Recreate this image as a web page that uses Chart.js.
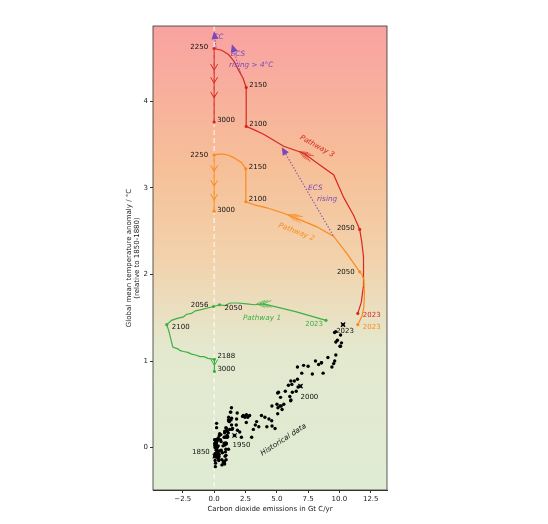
<!DOCTYPE html>
<html>
<head>
<meta charset="utf-8">
<script src="https://cdn.jsdelivr.net/npm/chart.js@4.4.0/dist/chart.umd.min.js"></script>
<style>
  html, body { margin: 0; padding: 0; background: #fff; }
  canvas { display: block; }
</style>
</head>
<body>
<canvas id="myChart" width="548" height="524"></canvas>
<script>
// historical data, one value per year from 1850 to 2023
const histFirstYear = 1850;
const histEmissions = [
    0.054, 0.054, 0.057, 0.059, 0.069, 0.071, 0.076, 0.077, 0.078, 0.083,
    0.091, 0.095, 0.097, 0.104, 0.112, 0.119, 0.122, 0.130, 0.135, 0.142,
    0.147, 0.156, 0.173, 0.184, 0.174, 0.188, 0.191, 0.194, 0.196, 0.210,
    0.236, 0.243, 0.256, 0.272, 0.275, 0.277, 0.281, 0.295, 0.327, 0.327,
    0.356, 0.372, 0.374, 0.370, 0.383, 0.406, 0.419, 0.440, 0.465, 0.507,
    0.534, 0.552, 0.566, 0.617, 0.624, 0.663, 0.707, 0.784, 0.750, 0.785,
    0.819, 0.836, 0.879, 0.943, 0.850, 0.838, 0.901, 0.955, 0.936, 0.806,
    0.932, 0.803, 0.845, 0.970, 0.963, 0.975, 0.983, 1.062, 1.065, 1.145,
    1.053, 0.940, 0.847, 0.893, 0.973, 1.027, 1.130, 1.209, 1.142, 1.192,
    1.299, 1.334, 1.342, 1.391, 1.383, 1.160, 1.238, 1.392, 1.469, 1.419,
    1.630, 1.768, 1.796, 1.841, 1.865, 2.043, 2.177, 2.270, 2.330, 2.454,
    2.569, 2.580, 2.686, 2.833, 2.995, 3.130, 3.288, 3.393, 3.564, 3.780,
    4.053, 4.208, 4.376, 4.614, 4.623, 4.596, 4.864, 5.016, 5.074, 5.357,
    5.301, 5.138, 5.094, 5.075, 5.258, 5.424, 5.563, 5.683, 5.930, 6.042,
    6.124, 6.206, 6.110, 6.132, 6.243, 6.402, 6.553, 6.653, 6.651, 6.700,
    6.893, 6.997, 7.140, 7.503, 7.838, 8.091, 8.343, 8.571, 8.700, 8.568,
    9.082, 9.404, 9.541, 9.625, 9.715, 9.717, 9.710, 9.842, 10.050, 10.093,
    9.615, 10.088, 10.168, 10.292
];
const histTemps = [
    -0.10, 0.09, 0.09, 0.05, 0.03, 0.02, 0.00, -0.15, -0.07, 0.04,
    -0.07, -0.11, -0.22, 0.02, -0.18, 0.03, 0.06, 0.03, 0.05, 0.03,
    0.04, -0.01, 0.09, 0.06, -0.03, -0.03, 0.00, 0.23, 0.28, 0.09,
    0.00, 0.09, 0.08, 0.01, -0.09, -0.09, -0.06, -0.12, 0.02, 0.11,
    -0.10, -0.04, -0.14, -0.15, -0.11, -0.08, 0.14, 0.16, -0.04, 0.09,
    0.15, 0.07, -0.03, -0.14, -0.20, -0.06, 0.02, -0.16, -0.17, -0.18,
    -0.16, -0.19, -0.10, -0.09, 0.12, 0.17, -0.05, -0.14, -0.02, 0.05,
    0.05, 0.12, 0.03, 0.05, 0.04, 0.12, 0.22, 0.12, 0.13, -0.02,
    0.19, 0.23, 0.19, 0.05, 0.19, 0.14, 0.17, 0.30, 0.32, 0.30,
    0.41, 0.41, 0.32, 0.34, 0.46, 0.35, 0.21, 0.26, 0.22, 0.21,
    0.14, 0.26, 0.33, 0.40, 0.20, 0.18, 0.12, 0.36, 0.37, 0.35,
    0.29, 0.38, 0.35, 0.37, 0.12, 0.21, 0.26, 0.30, 0.24, 0.37,
    0.35, 0.24, 0.33, 0.48, 0.25, 0.31, 0.22, 0.50, 0.39, 0.48,
    0.58, 0.64, 0.46, 0.63, 0.48, 0.44, 0.50, 0.65, 0.72, 0.59,
    0.77, 0.73, 0.54, 0.55, 0.64, 0.77, 0.65, 0.79, 0.93, 0.70,
    0.71, 0.86, 0.95, 0.94, 0.85, 1.00, 0.96, 0.98, 0.86, 0.98,
    1.04, 0.93, 0.97, 1.00, 1.07, 1.22, 1.34, 1.24, 1.17, 1.30,
    1.33, 1.17, 1.21, 1.42
];
const histMarkYears = [1850, 1950, 2000, 2023];

// pathway 1 (green)
const p1X = [8.93, 6.5, 3.95, 3.2, 2.6, 1.9, 1.28, 0.85, 0.43, -0.05, -0.6, -1.12, -1.5, -1.8, -2.2, -2.45, -3.0, -3.4, -3.78,
             -3.6, -3.5, -3.3, -2.9, -2.7, -2.45, -2.1, -1.8, -1.5, -1.12, -0.8, -0.5, 0.02, 0.02];
const p1Y = [1.47, 1.57, 1.66, 1.65, 1.66, 1.67, 1.67, 1.64, 1.65, 1.63, 1.61, 1.59, 1.58, 1.55, 1.54, 1.51, 1.49, 1.47, 1.42,
             1.34, 1.28, 1.16, 1.14, 1.12, 1.11, 1.10, 1.08, 1.07, 1.05, 1.05, 1.03, 1.02, 0.88];
const p1MarkYears = ['2023', '2050', '2056', '2100', '2188', '3000'];
const p1MarkX = [8.93, 0.43, -0.05, -3.78, 0.02, 0.02];
const p1MarkY = [1.47, 1.65, 1.63, 1.42, 1.02, 0.88];

// pathway 2 (orange)
const p2X = [11.47, 11.8, 11.95, 12.0, 11.95, 11.8, 11.62, 10.6, 9.55, 8.2, 6.88, 5.5, 4.2, 3.3, 2.53,
             2.53, 2.53, 2.2, 1.55, 1.1, 0.75, 0.35, 0, 0, 0];
const p2Y = [1.42, 1.52, 1.62, 1.78, 1.94, 2.0, 2.03, 2.24, 2.44, 2.55, 2.63, 2.71, 2.77, 2.80, 2.84,
             3.05, 3.22, 3.29, 3.35, 3.38, 3.39, 3.39, 3.38, 3.05, 2.73];
const p2MarkYears = ['2023', '2050', '2100', '2150', '2250', '3000'];
const p2MarkX = [11.47, 11.62, 2.53, 2.53, 0, 0];
const p2MarkY = [1.42, 2.03, 2.84, 3.22, 3.38, 2.73];

// pathway 3 (red)
const p3X = [11.47, 11.75, 11.9, 11.95, 11.9, 11.78, 11.62, 11.14, 10.34, 9.55, 8.3, 7.15, 5.55, 3.95, 3.2, 2.56,
             2.56, 2.56, 2.3, 1.95, 1.6, 1.15, 0.6, 0, 0, 0];
const p3Y = [1.55, 1.68, 1.85, 2.0, 2.2, 2.38, 2.52, 2.68, 2.89, 3.15, 3.28, 3.40, 3.48, 3.62, 3.67, 3.71,
             3.95, 4.16, 4.27, 4.36, 4.46, 4.54, 4.59, 4.61, 4.2, 3.76];
const p3MarkYears = ['2023', '2050', '2100', '2150', '2250', '3000'];
const p3MarkX = [11.47, 11.62, 2.56, 2.56, 0, 0];
const p3MarkY = [1.55, 2.52, 3.71, 4.16, 4.61, 3.76];

const xTicks = [-2.5, 0, 2.5, 5, 7.5, 10, 12.5];
const yTicks = [0, 1, 2, 3, 4];

const RED = '#d8281f';
const ORANGE = '#fb8a1c';
const GREEN = '#3cb043';
const PURPLE = '#7b47bb';
const FONT = '"DejaVu Sans", sans-serif';

function pts(xs, ys) {
    return xs.map((x, i) => ({ x: x, y: ys[i] }));
}

const histMarks = histMarkYears.map(y => ({
    x: histEmissions[y - histFirstYear],
    y: histTemps[y - histFirstYear]
}));

function lineSet(xs, ys, color) {
    return {
        data: pts(xs, ys), showLine: true, borderColor: color, borderWidth: 1.2,
        pointRadius: 0, tension: 0, fill: false
    };
}

function markSet(xs, ys, color) {
    return {
        data: pts(xs, ys), showLine: false, pointRadius: 1.6,
        backgroundColor: color, borderColor: color, borderWidth: 0
    };
}

// label offsets in pixels: [dx, dy, align]
const labelLayout = {
    p1: [[-3, 4, 'right'], [5, 3, 'left'], [-5, -1, 'right'], [5, 3, 'left'], [3, -3, 'left'], [3, -2, 'left']],
    p2: [[5, 3, 'left'], [-5, 0, 'right'], [3, -3, 'left'], [3, -2, 'left'], [-6, 0, 'right'], [3, -1, 'left']],
    p3: [[5, 2, 'left'], [-5, -1, 'right'], [3, -2, 'left'], [3, -2, 'left'], [-6, -1, 'right'], [3, -2, 'left']],
    hist: [[-5, -4, 'right'], [-2, 10, 'left'], [0, 11, 'left'], [2, 7, 'center']]
};

function drawText(ctx, text, px, py, color, align, font, rot) {
    ctx.save();
    ctx.translate(px, py);
    if (rot) ctx.rotate(rot * Math.PI / 180);
    ctx.fillStyle = color;
    ctx.font = font;
    ctx.textAlign = align;
    ctx.textBaseline = 'middle';
    ctx.fillText(text, 0, 0);
    ctx.restore();
}

function downChevron(ctx, px, py, color) {
    ctx.save();
    ctx.strokeStyle = color;
    ctx.lineWidth = 1;
    ctx.beginPath();
    ctx.moveTo(px - 3.5, py - 6);
    ctx.lineTo(px, py);
    ctx.lineTo(px + 3.5, py - 6);
    ctx.stroke();
    ctx.restore();
}

// feathered arrow: several thin chevrons, tip pointing in direction of travel
function featherArrow(ctx, px, py, ang, color) {
    ctx.save();
    ctx.strokeStyle = color;
    ctx.lineWidth = 0.7;
    for (let k = 0; k < 3; k++) {
        const tx = px - Math.cos(ang) * k * 3.2;
        const ty = py - Math.sin(ang) * k * 3.2;
        ctx.beginPath();
        ctx.moveTo(tx + Math.cos(ang + Math.PI - 0.4) * 9, ty + Math.sin(ang + Math.PI - 0.4) * 9);
        ctx.lineTo(tx, ty);
        ctx.lineTo(tx + Math.cos(ang + Math.PI + 0.4) * 9, ty + Math.sin(ang + Math.PI + 0.4) * 9);
        ctx.stroke();
    }
    ctx.restore();
}

function purpleArrow(ctx, x1, y1, x2, y2) {
    const ang = Math.atan2(y2 - y1, x2 - x1);
    ctx.save();
    ctx.strokeStyle = PURPLE;
    ctx.fillStyle = PURPLE;
    ctx.lineWidth = 1.1;
    ctx.setLineDash([1.3, 1.8]);
    ctx.beginPath();
    ctx.moveTo(x1, y1);
    ctx.lineTo(x2 - Math.cos(ang) * 6, y2 - Math.sin(ang) * 6);
    ctx.stroke();
    ctx.setLineDash([]);
    ctx.beginPath();
    ctx.moveTo(x2, y2);
    ctx.lineTo(x2 - Math.cos(ang) * 8 + Math.sin(ang) * 3.5, y2 - Math.sin(ang) * 8 - Math.cos(ang) * 3.5);
    ctx.lineTo(x2 - Math.cos(ang) * 8 - Math.sin(ang) * 3.5, y2 - Math.sin(ang) * 8 + Math.cos(ang) * 3.5);
    ctx.closePath();
    ctx.fill();
    ctx.restore();
}

const decorPlugin = {
    id: 'decor',
    beforeDatasetsDraw(chart) {
        const { ctx, chartArea: a } = chart;
        const g = ctx.createLinearGradient(0, a.top, 0, a.bottom);
        g.addColorStop(0, '#f9a2a1');
        g.addColorStop(0.3, '#f6bf98');
        g.addColorStop(0.5, '#f2d2ab');
        g.addColorStop(0.7, '#e3e9cf');
        g.addColorStop(1, '#dfebd3');
        ctx.save();
        ctx.fillStyle = g;
        ctx.fillRect(a.left, a.top, a.right - a.left, a.bottom - a.top);
        const x0 = chart.scales.x.getPixelForValue(0);
        ctx.strokeStyle = 'rgba(255,255,255,0.95)';
        ctx.lineWidth = 1;
        ctx.setLineDash([5, 3]);
        ctx.beginPath();
        ctx.moveTo(x0, a.top);
        ctx.lineTo(x0, a.bottom);
        ctx.stroke();
        ctx.restore();
    },
    afterDatasetsDraw(chart) {
        const { ctx, chartArea: a } = chart;
        const sx = chart.scales.x, sy = chart.scales.y;
        const X = v => sx.getPixelForValue(v);
        const Y = v => sy.getPixelForValue(v);
        const small = '7px ' + FONT;

        // year labels
        const groups = [
            [p1MarkYears, p1MarkX, p1MarkY, labelLayout.p1, [GREEN, '#111', '#111', '#111', '#111', '#111']],
            [p2MarkYears, p2MarkX, p2MarkY, labelLayout.p2, [ORANGE, '#111', '#111', '#111', '#111', '#111']],
            [p3MarkYears, p3MarkX, p3MarkY, labelLayout.p3, [RED, '#111', '#111', '#111', '#111', '#111']],
            [histMarkYears.map(String), histMarks.map(p => p.x), histMarks.map(p => p.y), labelLayout.hist, ['#111', '#111', '#111', '#111']]
        ];
        groups.forEach(([names, xs, ys, lay, cols]) => {
            names.forEach((n, i) => {
                drawText(ctx, n, X(xs[i]) + lay[i][0], Y(ys[i]) + lay[i][1], cols[i], lay[i][2], small, 0);
            });
        });

        // downward chevrons on the x = 0 decline
        [4.36, 4.21, 4.04].forEach(v => downChevron(ctx, X(0), Y(v), RED));
        [3.19, 3.02, 2.86].forEach(v => downChevron(ctx, X(0), Y(v), ORANGE));
        downChevron(ctx, X(0.02), Y(0.95), GREEN);

        // travel direction arrows
        const dir = (xa, ya, xb, yb) => Math.atan2(Y(yb) - Y(ya), X(xb) - X(xa));
        featherArrow(ctx, X(6.8), Y(3.42), dir(9.55, 3.15, 5.55, 3.48), RED);
        featherArrow(ctx, X(5.9), Y(2.69), dir(6.88, 2.63, 4.2, 2.77), ORANGE);
        featherArrow(ctx, X(3.4), Y(1.66), dir(3.95, 1.66, 2.6, 1.66), GREEN);

        // ECS / CC arrows
        purpleArrow(ctx, X(0.15), Y(4.62), X(0.0), Y(4.81));
        purpleArrow(ctx, X(2.1), Y(4.33), X(1.42), Y(4.66));
        purpleArrow(ctx, X(9.5), Y(2.45), X(5.4), Y(3.47));
        const it = 'italic 7.3px ' + FONT;
        drawText(ctx, 'CC', X(0.35), Y(4.74), PURPLE, 'center', it, 0);
        drawText(ctx, 'ECS', X(1.9), Y(4.55), PURPLE, 'center', it, 0);
        drawText(ctx, 'rising > 4°C', X(2.96), Y(4.42), PURPLE, 'center', it, 0);
        drawText(ctx, 'ECS', X(8.08), Y(3.0), PURPLE, 'center', it, 0);
        drawText(ctx, 'rising', X(9.02), Y(2.87), PURPLE, 'center', it, 0);

        // series names
        drawText(ctx, 'Pathway 3', X(8.22), Y(3.48), RED, 'center', it, 29);
        drawText(ctx, 'Pathway 2', X(6.58), Y(2.49), ORANGE, 'center', it, 21);
        drawText(ctx, 'Pathway 1', X(3.82), Y(1.49), GREEN, 'center', it, 0);
        drawText(ctx, 'Historical data', X(5.54), Y(0.09), '#111', 'center', it, -33);

        // frame
        ctx.save();
        ctx.strokeStyle = '#333';
        ctx.lineWidth = 0.8;
        ctx.strokeRect(a.left, a.top, a.right - a.left, a.bottom - a.top);
        ctx.restore();
    }
};

const ctx = document.getElementById('myChart');
const myChart = new Chart(ctx, {
    type: 'scatter',
    data: {
        datasets: [
            lineSet(p1X, p1Y, GREEN),
            lineSet(p2X, p2Y, ORANGE),
            lineSet(p3X, p3Y, RED),
            markSet(p1MarkX, p1MarkY, GREEN),
            markSet(p2MarkX, p2MarkY, ORANGE),
            markSet(p3MarkX, p3MarkY, RED),
            {
                data: pts(histEmissions, histTemps), pointRadius: 1.7,
                backgroundColor: '#000', borderWidth: 0
            },
            {
                data: histMarks, pointStyle: 'crossRot', pointRadius: 3,
                borderColor: '#000', borderWidth: 1.2
            }
        ]
    },
    options: {
        responsive: false,
        animation: false,
        events: [],
        layout: { padding: { left: 125, right: 161, top: 26, bottom: 11 } },
        plugins: { legend: { display: false }, tooltip: { enabled: false } },
        scales: {
            x: {
                type: 'linear', min: -4.88, max: 13.8,
                afterBuildTicks: s => { s.ticks = xTicks.map(v => ({ value: v })); },
                afterFit: s => { s.height = 23; },
                grid: { drawOnChartArea: false, tickLength: 3, color: '#333' },
                border: { color: '#333' },
                ticks: {
                    color: '#222', font: { family: FONT, size: 7 }, padding: 2,
                    callback: v => (v < 0 ? '\u2212' : '') + Math.abs(v).toFixed(1)
                },
                title: {
                    display: true, text: 'Carbon dioxide emissions in Gt C/yr',
                    color: '#222', font: { family: FONT, size: 7 }, padding: { top: 1, bottom: 0 }
                }
            },
            y: {
                type: 'linear', min: -0.49, max: 4.87,
                afterBuildTicks: s => { s.ticks = yTicks.map(v => ({ value: v })); },
                afterFit: s => { s.width = 28; },
                grid: { drawOnChartArea: false, tickLength: 3, color: '#333' },
                border: { color: '#333' },
                ticks: { color: '#222', font: { family: FONT, size: 7 }, padding: 2 },
                title: {
                    display: true,
                    text: ['Global mean temperature anomaly / °C', '(relative to 1850-1880)'],
                    color: '#222', font: { family: FONT, size: 7 }, padding: 0
                }
            }
        }
    },
    plugins: [decorPlugin]
});
</script>
</body>
</html>
